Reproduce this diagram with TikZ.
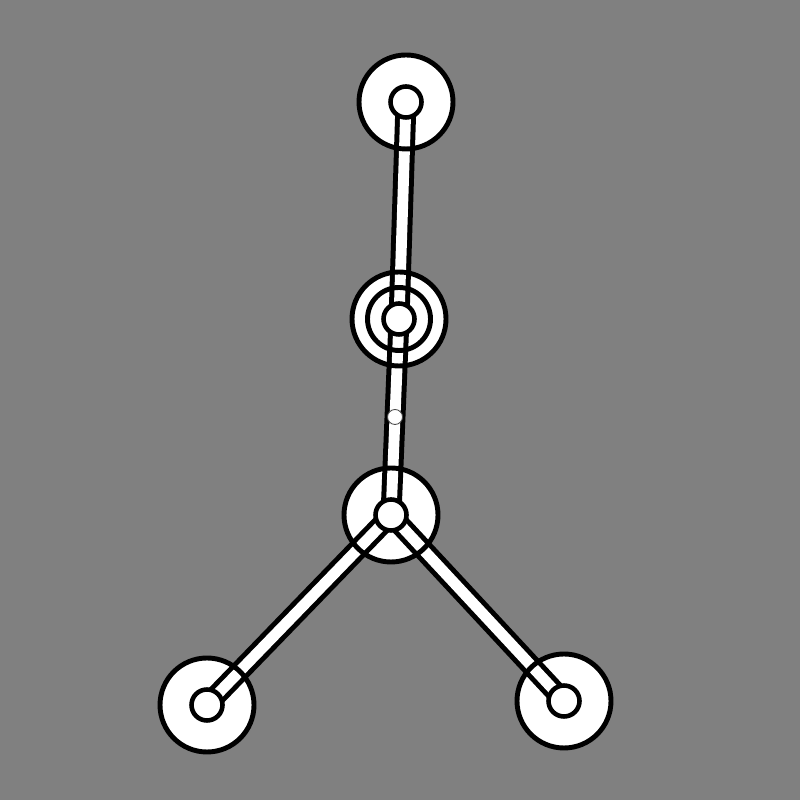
\documentclass[tikz,border=0pt]{standalone}
\usepackage{xcolor}
\usetikzlibrary{positioning}
\definecolor{bgGray}{gray}{0.5}
\tikzset{
    atomdisk/.style={circle,fill=white,minimum size=0.94cm,inner sep=0pt},
    atomring/.style={circle,draw=black,line width=1.4pt,minimum size=0.94cm,inner sep=0pt},
    midring/.style={circle,draw=black,line width=1.4pt,minimum size=0.63cm,inner sep=0pt},
    atomcore/.style={circle,draw=black,fill=white,line width=1.3pt,minimum size=0.31cm,inner sep=0pt},
    bondedge/.style={line width=5.95pt,black},
    bondfill/.style={line width=3.1pt,white},
    bondmark/.style={circle,draw=black!70,fill=white,line width=0.25pt,minimum size=0.15cm,inner sep=0pt}
}
\begin{document}
\begin{tikzpicture}
    \fill[bgGray] (0,0) rectangle (8,8);
    \useasboundingbox (0,0) rectangle (8,8);
    % white disks go under the bonds
    \node[atomdisk] (topDisk) at (4.06,6.98) {};
    \node[atomdisk] (midDisk) at (3.99,4.81) {};
    \node[atomdisk] (lowDisk) at (3.91,2.85) {};
    \node[atomdisk] (leftDisk) at (2.07,0.95) {};
    \node[atomdisk] (rightDisk) at (5.64,0.99) {};
    % bonds
    \draw[bondedge] (topDisk.center) -- (midDisk.center);
    \draw[bondedge] (midDisk.center) -- (lowDisk.center);
    \draw[bondedge] (lowDisk.center) -- (leftDisk.center);
    \draw[bondedge] (lowDisk.center) -- (rightDisk.center);
    \draw[bondfill] (topDisk.center) -- (midDisk.center);
    \draw[bondfill] (midDisk.center) -- (lowDisk.center);
    \draw[bondfill] (lowDisk.center) -- (leftDisk.center);
    \draw[bondfill] (lowDisk.center) -- (rightDisk.center);
    % rings and cores on top
    \node[atomring] (topRing) at (topDisk) {};
    \node[atomring] (midRing) at (midDisk) {};
    \node[atomring] (lowRing) at (lowDisk) {};
    \node[atomring] (leftRing) at (leftDisk) {};
    \node[atomring] (rightRing) at (rightDisk) {};
    \node[midring] (midInner) at (midDisk) {};
    \node[atomcore] (topCore) at (topDisk) {};
    \node[atomcore] (midCore) at (midDisk) {};
    \node[atomcore] (lowCore) at (lowDisk) {};
    \node[atomcore] (leftCore) at (leftDisk) {};
    \node[atomcore] (rightCore) at (rightDisk) {};
    \node[bondmark] (bondDot) at (3.95,3.83) {};
\end{tikzpicture}
\end{document}
